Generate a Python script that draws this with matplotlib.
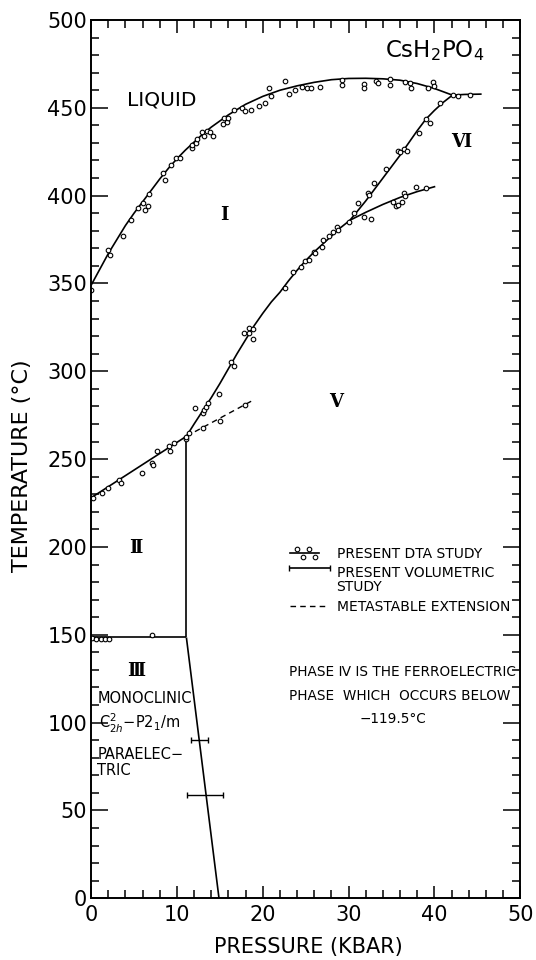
import matplotlib
matplotlib.use("Agg")
import matplotlib.pyplot as plt
from matplotlib.ticker import MultipleLocator

plt.rcParams['font.family'] = ['DejaVu Sans']
plt.rcParams['mathtext.fontset'] = 'dejavusans'

# phase boundaries (pressure kbar, temperature C)
liq_p = [0, 1, 2, 3, 4, 5, 6, 7, 8, 9, 10, 11, 12, 13, 14, 15, 16, 17, 18, 20,
         22, 24, 26, 28, 30, 32, 34, 36, 38, 40, 41, 42.1, 43.5, 45.5]
liq_t = [349, 358, 367, 375, 383, 390, 396.5, 403, 409.5, 415.5, 421, 426, 430.5,
         435, 439, 442.5, 446, 449, 452, 456.5, 460, 462.5, 464.5, 466, 466.7,
         466.8, 466.5, 465.7, 463.8, 461, 459.2, 457.2, 457.6, 457.8]

i_v_p = [11.1, 12, 13, 14, 15, 16, 17, 18, 19, 20, 21, 22, 23, 24, 25, 26, 27, 28, 29, 30.16]
i_v_t = [263, 270, 277.5, 285, 293, 301.5, 310, 318, 326, 333, 339.5, 345, 351.5,
         357.5, 363, 368, 372.5, 377, 381.5, 386]

i_vi_p = [30.16, 31, 32, 33, 34, 35, 36, 37, 38, 39, 40, 41, 42.1]
i_vi_t = [386, 391, 397, 403.5, 410, 416.5, 423, 430, 437, 443.5, 448.5, 453, 457.2]

v_vi_p = [30.16, 32, 34, 36, 38, 40.1]
v_vi_t = [386, 390.5, 395, 399, 402.3, 405.2]

ii_i_p = [0, 11.1]
ii_i_t = [228, 263]

ii_v_p = [11.1, 11.1]
ii_v_t = [148.5, 263]

ii_iii_p = [0, 11.1]
ii_iii_t = [148.5, 148.5]

iii_v_p = [11.1, 14.9]
iii_v_t = [148.5, 0]

meta_p = [11.1, 19.05]
meta_t = [263, 284]

# DTA points
dta_liq_p = [0.0, 2.0, 2.15, 3.67, 4.6, 5.5, 6.1, 6.3, 6.6, 6.7, 8.4, 8.6, 9.3, 9.9,
             10.3, 11.7, 11.8, 12.2, 12.3, 12.9, 13.2, 13.5, 13.8, 14.2, 15.4, 15.5,
             15.8, 16.0, 16.6, 17.6, 17.9, 18.6, 19.6, 20.3, 20.7, 21.0, 22.6, 23.0,
             23.7, 24.6, 25.1, 25.6, 26.7, 29.2, 29.2, 31.8, 31.8, 33.2, 33.4, 34.8,
             34.8, 36.6, 37.2, 37.3, 39.2, 39.8, 39.9, 42.2, 42.8, 44.1]
dta_liq_t = [346, 369, 366, 377, 386, 393, 396, 392, 394, 401, 413, 409, 417.5, 421.5,
             421.5, 427, 429, 430, 432, 436, 434, 437, 436, 434, 441, 444, 442, 444,
             449, 450, 448, 449, 451, 453, 461, 457, 465, 458, 460, 462, 461, 461, 462,
             466, 463, 463.5, 461.5, 465, 464, 466.3, 463.2, 464.6, 464.3, 461.5, 461,
             464.6, 462.3, 457.2, 457, 457.4]

dta_iv_p = [12.16, 13.0, 13.2, 13.4, 13.67, 14.87, 16.26, 16.66, 17.86, 18.37, 18.45,
            18.85, 18.85, 22.64, 23.55, 24.43, 24.95, 25.43, 25.94, 26.1, 26.94, 27.0,
            27.7, 28.2, 28.6, 28.8, 30.0]
dta_iv_t = [279.2, 276, 277.9, 279.8, 281.7, 286.8, 305.4, 303.1, 321.6, 324.4, 321.6,
            323.8, 318.3, 347.2, 356.7, 359.1, 362.9, 363.3, 367.7, 367.1, 370.9, 374.7,
            377, 379.4, 381.9, 380.4, 385.2]

dta_ivi_p = [30.6, 31.1, 32.3, 32.4, 33.0, 34.4, 35.7, 36.0, 36.4, 36.8, 38.2, 39.0, 39.5, 40.6]
dta_ivi_t = [390.3, 396, 401.6, 400.3, 407.3, 414.9, 425.5, 425, 426.5, 425.4, 435.8,
             443.9, 441.5, 452.8]

dta_vvi_p = [31.8, 32.6, 35.2, 35.5, 35.8, 36.2, 36.5, 36.6, 37.8, 39.0]
dta_vvi_t = [387.6, 386.7, 396.4, 393.9, 394.9, 396.2, 401.5, 399.6, 404.7, 404.1]

dta_iii_p = [0.21, 1.32, 1.92, 3.3, 3.5, 5.9, 7.1, 7.22, 7.7, 9.09, 9.21, 9.6, 11.0, 11.08, 11.4]
dta_iii_t = [227.7, 230.9, 233.4, 238.1, 236.2, 242.3, 248, 246.7, 254.9, 257.2, 254.4,
             259.1, 261.2, 262.7, 265]

dta_meta_p = [13.07, 15.07, 17.98]
dta_meta_t = [267.9, 271.7, 281]

dta_low_p = [0.1, 0.6, 1.1, 1.6, 2.1, 7.05]
dta_low_t = [148, 147.5, 147.5, 147.5, 147.5, 150]

# volumetric points with error bars
vol_p = [12.62, 13.42]
vol_t = [90, 59]
vol_err_lo = [1.02, 2.22]
vol_err_hi = [1.03, 1.98]

fig = plt.figure(figsize=(5.36, 9.6), dpi=100)
ax = fig.add_axes([0.170, 0.0643, 0.8006, 0.9149])

lw = 1.2
for pp, tt in [(liq_p, liq_t), (i_v_p, i_v_t), (i_vi_p, i_vi_t), (v_vi_p, v_vi_t),
               (ii_i_p, ii_i_t), (ii_v_p, ii_v_t), (ii_iii_p, ii_iii_t), (iii_v_p, iii_v_t)]:
    ax.plot(pp, tt, color='black', lw=lw, solid_capstyle='butt')
ax.plot(meta_p, meta_t, color='black', lw=1.0, dashes=(4, 3))

mk = dict(marker='o', ls='none', ms=3.3, mfc='white', mec='black', mew=0.8)
for pp, tt in [(dta_liq_p, dta_liq_t), (dta_iv_p, dta_iv_t), (dta_ivi_p, dta_ivi_t),
               (dta_vvi_p, dta_vvi_t), (dta_iii_p, dta_iii_t), (dta_meta_p, dta_meta_t),
               (dta_low_p, dta_low_t)]:
    ax.plot(pp, tt, **mk)

ax.errorbar(vol_p, vol_t, xerr=[vol_err_lo, vol_err_hi], fmt='none', ecolor='black',
            elinewidth=1.0, capsize=2.5, capthick=1.0)

ax.set_xlim(0, 50)
ax.set_ylim(0, 500)
ax.xaxis.set_major_locator(MultipleLocator(10))
ax.xaxis.set_minor_locator(MultipleLocator(2))
ax.yaxis.set_major_locator(MultipleLocator(50))
ax.yaxis.set_minor_locator(MultipleLocator(10))
ax.tick_params(axis='x', which='major', direction='in', length=9, width=1.1,
               top=True, labelsize=15, pad=5)
ax.tick_params(axis='x', which='minor', direction='in', length=5.8, width=1.1, top=True)
ax.tick_params(axis='y', which='major', direction='in', length=12, width=1.1,
               right=True, labelsize=15, pad=3)
ax.tick_params(axis='y', which='minor', direction='in', length=6, width=1.1, right=True)
for s in ax.spines.values():
    s.set_linewidth(1.4)

ax.set_xlabel('PRESSURE (KBAR)', fontsize=15)
ax.set_ylabel('TEMPERATURE (°C)', fontsize=16)
ax.xaxis.set_label_coords(0.507, -0.044)
ax.yaxis.set_label_coords(-0.137, 0.493)

# region labels
ax.text(8.2, 451.5, 'LIQUID', fontsize=14.5, ha='center', va='baseline')
ax.text(40.0, 478.6, r'CsH$_2$PO$_4$', fontsize=16.5, ha='center', va='baseline')
rn = dict(fontsize=13, ha='center', va='baseline', fontweight='bold',
          family=['DejaVu Serif', 'DejaVu Sans'])
ax.text(15.5, 386, 'Ⅰ', **rn)
ax.text(43.15, 427.8, 'Ⅵ', **rn)
ax.text(28.6, 279.4, 'Ⅴ', **rn)
ax.text(5.23, 196.7, 'Ⅱ', **rn)
ax.text(5.27, 126.5, 'Ⅲ', **rn)

sm = dict(fontsize=10.5, ha='left', va='baseline')
ax.text(0.72, 111.3, 'MONOCLINIC', **sm)
ax.text(0.92, 96.8, r'C$^{2}_{2h}$$-$P2$_{1}$/m', **sm)
ax.text(0.72, 79.1, 'PARAELEC−', **sm)
ax.text(0.72, 70.2, 'TRIC', **sm)

nt = dict(fontsize=9.8, va='baseline')
ax.text(23.04, 126.5, 'PHASE Ⅳ IS THE FERROELECTRIC', ha='left', **nt)
ax.text(23.04, 112.9, 'PHASE  WHICH  OCCURS BELOW', ha='left', **nt)
ax.text(35.2, 100, '−119.5°C', ha='center', **nt)

# legend keys
ax.plot([23.2, 26.6], [196.4, 196.4], color='black', lw=lw)
ax.plot([24.0, 24.7, 25.4, 26.1], [198.8, 194.2, 198.8, 194.2], **mk)
ax.errorbar([25.4], [187.8], xerr=[[2.4]], fmt='none', ecolor='black', elinewidth=lw,
            capsize=2.5, capthick=1.0)
ax.plot([23.2, 27.3], [166.4, 166.4], color='black', lw=1.0, dashes=(4, 3))
lg = dict(fontsize=10, ha='left', va='baseline')
ax.text(28.6, 193.5, 'PRESENT DTA STUDY', **lg)
ax.text(28.6, 183.0, 'PRESENT VOLUMETRIC', **lg)
ax.text(28.6, 174.9, 'STUDY', **lg)
ax.text(28.6, 163.5, 'METASTABLE EXTENSION', **lg)

fig.savefig('out.png', dpi=100)
